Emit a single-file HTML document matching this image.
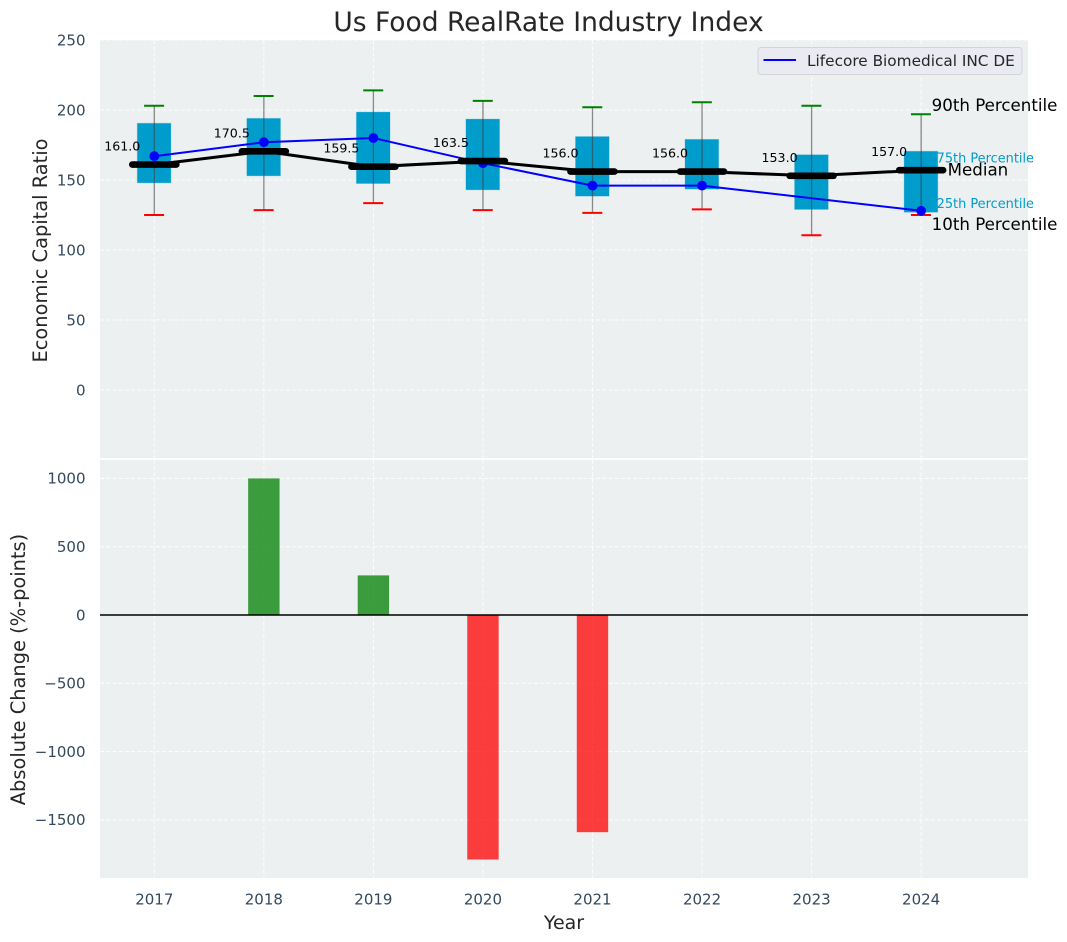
<!DOCTYPE html>
<html lang="en">
<head>
<meta charset="utf-8">
<title>Us Food RealRate Industry Index</title>
<style>
html,body{margin:0;padding:0;background:#fff;width:1067px;height:942px;overflow:hidden}
svg{display:block;font-family:"DejaVu Sans",sans-serif}
</style>
</head>
<body>
<svg id="chart" xmlns="http://www.w3.org/2000/svg" width="1067" height="942" viewBox="0 0 1067 942">
  <rect x="0" y="0" width="1067" height="942" fill="#ffffff"/>
  <rect x="100" y="40" width="928" height="418" fill="#ecf0f1"/>
  <rect x="100" y="460" width="928" height="418" fill="#ecf0f1"/>
  <g id="grid"></g>
  <g id="bars"></g>
  <g id="boxes"></g>
  <g id="company"></g>
  <g id="medians"></g>
  <g id="annotations"></g>
  <g id="ticks"></g>
  <text x="548.5" y="31" text-anchor="middle" font-size="26.5" fill="#262626">Us Food RealRate Industry Index</text>
  <text transform="translate(47,250.5) rotate(-90)" text-anchor="middle" font-size="19.4" fill="#262626">Economic Capital Ratio</text>
  <text transform="translate(25,669.5) rotate(-90)" text-anchor="middle" font-size="19.4" fill="#262626">Absolute Change (%-points)</text>
  <text x="564" y="929" text-anchor="middle" font-size="19" fill="#262626">Year</text>
  <g>
    <rect x="758" y="47.5" width="264" height="27" rx="3" fill="#eaeaf2" stroke="#d2d4d8" stroke-width="1"/>
    <line x1="763.5" y1="60" x2="796" y2="60" stroke="#0000ff" stroke-width="2"/>
    <text x="807" y="66" font-size="15.3" fill="#262626">Lifecore Biomedical INC DE</text>
  </g>
</svg>
<script>
const years = [2017, 2018, 2019, 2020, 2021, 2022, 2023, 2024];
const p90 = [203, 210, 214, 206.5, 202, 205.5, 203, 197];
const p75 = [190.5, 194, 198.5, 193.5, 181, 179, 168, 170.5];
const medians = [161.0, 170.5, 159.5, 163.5, 156.0, 156.0, 153.0, 157.0];
const p25 = [148, 153, 147.5, 143, 138.5, 143.5, 129, 127];
const p10 = [125, 128.5, 133.5, 128.5, 126.5, 129, 110.5, 125];
const company = [167, 177, 180, 162, 146, 146, null, 128];
const changes = [null, 1000, 290, -1790, -1590, null, null, null];
const topTicks = [0, 50, 100, 150, 200, 250];
const bottomTicks = [-1500, -1000, -500, 0, 500, 1000];

const NS = 'http://www.w3.org/2000/svg';
const X = function (yr) { return 154.3 + (yr - 2017) * 109.55; };
const YT = function (v) { return 390 - v * 1.4; };
const YB = function (v) { return 615 - v * 0.1366; };

function mk(parent, tag, attrs, txt) {
  const el = document.createElementNS(NS, tag);
  for (const k in attrs) el.setAttribute(k, attrs[k]);
  if (txt !== undefined) el.textContent = txt;
  document.getElementById(parent).appendChild(el);
  return el;
}
function fmtTick(v) { return v < 0 ? '\u2212' + Math.abs(v) : String(v); }

let el;

/* grid */
const gridStyle = { stroke: '#ffffff', 'stroke-width': 1, 'stroke-dasharray': '4 2.2', opacity: 0.9 };
topTicks.forEach(function (t) {
  el = mk('grid', 'line', Object.assign({ x1: 100, x2: 1028, y1: YT(t), y2: YT(t) }, gridStyle));
  
  
  el = mk('ticks', 'text', { x: 85.5, y: YT(t) + 5.3, 'text-anchor': 'end', 'font-size': 15, fill: '#34495e' }, fmtTick(t));
  
  
});
bottomTicks.forEach(function (t) {
  el = mk('grid', 'line', Object.assign({ x1: 100, x2: 1028, y1: YB(t), y2: YB(t) }, gridStyle));
  
  
  el = mk('ticks', 'text', { x: 85.5, y: YB(t) + 5.3, 'text-anchor': 'end', 'font-size': 15, fill: '#34495e' }, fmtTick(t));
  
  
});
years.forEach(function (yr) {
  el = mk('grid', 'line', Object.assign({ x1: X(yr), x2: X(yr), y1: 40, y2: 458 }, gridStyle));
  
  
  el = mk('grid', 'line', Object.assign({ x1: X(yr), x2: X(yr), y1: 460, y2: 878 }, gridStyle));
  
  
  el = mk('ticks', 'text', { x: X(yr), y: 904.5, 'text-anchor': 'middle', 'font-size': 15, fill: '#34495e' }, String(yr));
  
  
});

/* bars */
changes.forEach(function (v, i) {
  if (v === null) return;
  const x = X(years[i]);
  const y0 = YB(0), y1 = YB(v);
  el = mk('bars', 'rect', {
    x: x - 15.7, width: 31.4, y: Math.min(y0, y1), height: Math.abs(y1 - y0),
    fill: v >= 0 ? '#008000' : '#ff0000', 'fill-opacity': 0.75
  });
  
  
});
el = mk('bars', 'line', { x1: 100, x2: 1028, y1: YB(0), y2: YB(0), stroke: '#000000', 'stroke-width': 1.5 });



/* percentile boxes and whiskers */
years.forEach(function (yr, i) {
  const x = X(yr);
  el = mk('boxes', 'rect', {
    x: x - 17, width: 33.6, y: YT(p75[i]), height: YT(p25[i]) - YT(p75[i]),
    fill: '#009ccc', stroke: '#009ccc', 'stroke-opacity': 0.25, 'stroke-width': 1
  });
  
  
  el = mk('boxes', 'line', { x1: x, x2: x, y1: YT(p90[i]), y2: YT(p10[i]), stroke: '#404040', 'stroke-opacity': 0.6, 'stroke-width': 1.3 });
  
  
  el = mk('boxes', 'line', { x1: x - 10.2, x2: x + 9.8, y1: YT(p90[i]), y2: YT(p90[i]), stroke: '#008000', 'stroke-width': 2 });
  
  
  el = mk('boxes', 'line', { x1: x - 10.2, x2: x + 9.8, y1: YT(p10[i]), y2: YT(p10[i]), stroke: '#ff0000', 'stroke-width': 2 });
  
  
});

/* company series */
const companyPts = [];
company.forEach(function (v, i) {
  if (v !== null) companyPts.push(X(years[i]).toFixed(2) + ',' + YT(v).toFixed(2));
});
el = mk('company', 'polyline', { points: companyPts.join(' '), fill: 'none', stroke: '#0000ff', 'stroke-width': 2 });


company.forEach(function (v, i) {
  if (v === null) return;
  el = mk('company', 'circle', { cx: X(years[i]), cy: YT(v), r: 4.9, fill: '#0000ff' });
  
  
});

/* medians */
el = mk('medians', 'polyline', {
  points: medians.map(function (v, i) { return X(years[i]).toFixed(2) + ',' + YT(v).toFixed(2); }).join(' '),
  fill: 'none', stroke: '#000000', 'stroke-width': 3
});


medians.forEach(function (v, i) {
  const x = X(years[i]);
  el = mk('medians', 'line', { x1: x - 22, x2: x + 22, y1: YT(v), y2: YT(v), stroke: '#000000', 'stroke-width': 6.6, 'stroke-linecap': 'round' });
  
  
  el = mk('medians', 'text', { x: x - 14, y: YT(v) - 14, 'text-anchor': 'end', 'font-size': 12.6, fill: '#000000' }, v.toFixed(1));
  
  
});

/* percentile annotations beside the last year */
const lastIdx = years.length - 1;
const lastX = X(years[lastIdx]);
el = mk('annotations', 'text', { x: lastX + 10.5, y: YT(p90[lastIdx]) - 3, 'font-size': 16.67, fill: '#000000' }, '90th Percentile');


el = mk('annotations', 'text', { x: lastX + 15.5, y: YT(p75[lastIdx]) + 11, 'font-size': 12.9, fill: '#009ccc' }, '75th Percentile');


el = mk('annotations', 'text', { x: lastX + 26.5, y: YT(medians[lastIdx]) + 5.4, 'font-size': 16.67, fill: '#000000' }, 'Median');


el = mk('annotations', 'text', { x: lastX + 15.5, y: YT(p25[lastIdx]) - 4, 'font-size': 12.9, fill: '#009ccc' }, '25th Percentile');


el = mk('annotations', 'text', { x: lastX + 10.5, y: YT(p10[lastIdx]) + 15, 'font-size': 16.67, fill: '#000000' }, '10th Percentile');


</script>
</body>
</html>
